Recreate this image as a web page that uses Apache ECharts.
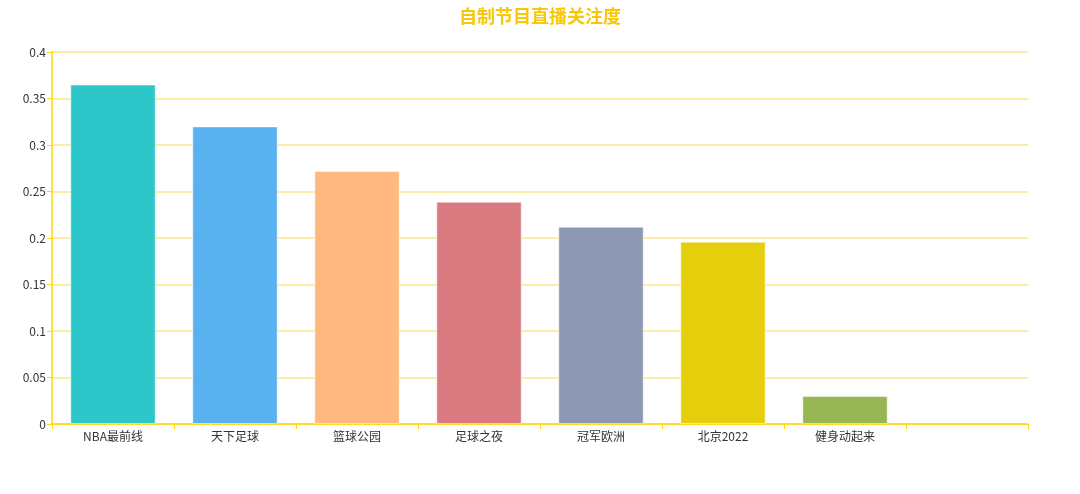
<!DOCTYPE html>
<html><head><meta charset="utf-8">
<script src="https://cdn.jsdelivr.net/npm/echarts@6/dist/echarts.min.js"></script>
<style>html,body{margin:0;padding:0;background:#fff}#c{width:1080px;height:494px}</style>
</head><body><div id="c"></div>
<script>
const categories = ['NBA最前线','天下足球','篮球公园','足球之夜','冠军欧洲','北京2022','健身动起来',''];
const values = [0.365, 0.320, 0.272, 0.239, 0.212, 0.196, 0.030, null];
const barColors = ['#2ec7c9','#5ab1ef','#ffb980','#d87a80','#8d98b3','#e5cf0d','#97b552','#95706d'];
const yTicks = {min:0, max:0.4, interval:0.05};

const chart = echarts.init(document.getElementById('c'));
chart.setOption({
  animation:false,
  textStyle:{fontFamily:'"Noto Sans CJK SC", "Noto Sans", sans-serif'},
  title:{text:'自制节目直播关注度', left:'center', top:2,
    textStyle:{color:'#f8c808', fontSize:18, fontWeight:'bold', fontFamily:'"Noto Sans CJK SC", sans-serif'}},
  grid:{left:52, right:52, top:52, bottom:70, containLabel:false},
  xAxis:{type:'category', data:categories,
    axisLine:{lineStyle:{color:'#ffd700', width:1.5}},
    axisTick:{show:true, lineStyle:{color:'#ffd700'}},
    axisLabel:{color:'#333', fontSize:12, margin:6}},
  yAxis:{type:'value', min:yTicks.min, max:yTicks.max, interval:yTicks.interval,
    axisLine:{show:true, lineStyle:{color:'#ffd700', width:1.5}},
    axisTick:{show:true, lineStyle:{color:'#ffd700'}},
    axisLabel:{color:'#333', fontSize:12, margin:6},
    splitLine:{lineStyle:{color:'#fbe68a', width:1.5}}},
  series:[{type:'bar', barWidth:'70%',
    data: values.map((v,i)=>({value:v, itemStyle:{color:barColors[i], borderColor:'rgba(255,255,255,0.5)', borderWidth:1}}))}]
});
</script></body></html>
